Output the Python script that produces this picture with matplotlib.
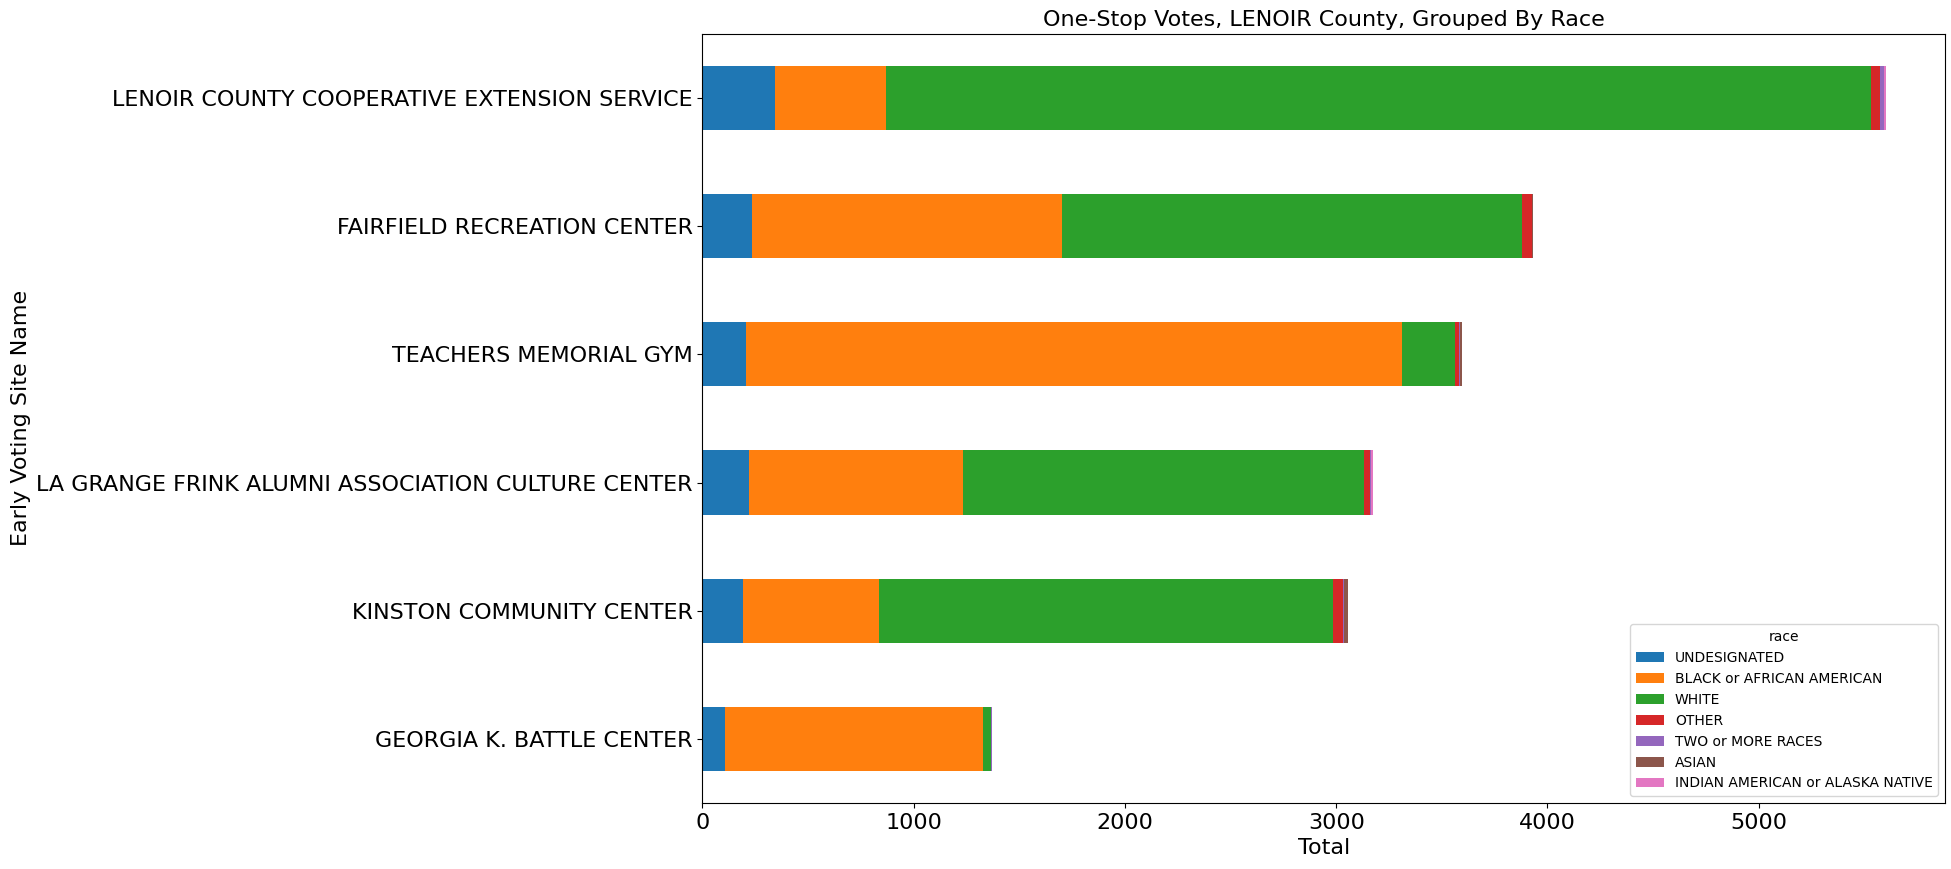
import pandas as pd
import matplotlib.pyplot as plt

sites = ["GEORGIA K. BATTLE CENTER", "KINSTON COMMUNITY CENTER",
         "LA GRANGE FRINK ALUMNI ASSOCIATION CULTURE CENTER", "TEACHERS MEMORIAL GYM",
         "FAIRFIELD RECREATION CENTER", "LENOIR COUNTY COOPERATIVE EXTENSION SERVICE"]
undesignated = [105, 190, 220, 205, 235, 345]
black = [1222, 645, 1015, 3105, 1465, 524]
white = [37, 2150, 1896, 254, 2177, 4661]
other = [0, 46, 28, 18, 48, 44]
two_more = [9, 4, 5, 5, 0, 19]
asian = [0, 19, 0, 8, 6, 0]
indian = [0, 4, 10, 0, 0, 9]

df = pd.DataFrame({
    "UNDESIGNATED": undesignated,
    "BLACK or AFRICAN AMERICAN": black,
    "WHITE": white,
    "OTHER": other,
    "TWO or MORE RACES": two_more,
    "ASIAN": asian,
    "INDIAN AMERICAN or ALASKA NATIVE": indian,
}, index=pd.Index(sites, name="Early Voting Site Name"))
df.columns.name = "race"

fig, ax = plt.subplots(figsize=(19.51, 8.69), dpi=100)
df.plot.barh(stacked=True, ax=ax)
ax.set_title("One-Stop Votes, LENOIR County, Grouped By Race", fontsize=16)
ax.set_xlabel("Total", fontsize=16)
ax.set_ylabel("Early Voting Site Name", fontsize=16)
ax.tick_params(labelsize=16)
ax.legend(title="race", loc="lower right")
fig.subplots_adjust(left=0.36, right=0.997, top=0.961, bottom=0.076)
fig.savefig("out.png")
